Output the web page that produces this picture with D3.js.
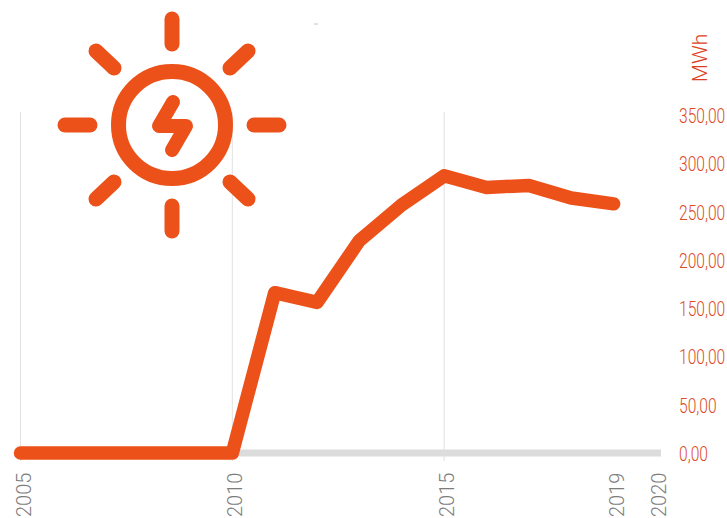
<!DOCTYPE html>
<html>
<head>
<meta charset="utf-8">
<script src="https://cdn.jsdelivr.net/npm/d3@7"></script>
<style>
    html, body { margin: 0; padding: 0; background: #fff; }
    svg { display: block; }
    .y_label { font-family: "Roboto", sans-serif; font-weight: 300; font-size: 20px; fill: #dd4a1e; }
    .x_label { font-family: "Roboto", sans-serif; font-weight: 300; font-size: 20px; fill: #7d7d7d; }
</style>
</head>
<body>
<div id="chart"></div>
<script>

let years = [2005, 2006, 2007, 2008, 2009, 2010, 2011, 2012, 2013, 2014, 2015, 2016, 2017, 2018, 2019];
let mwh = [0, 0, 0, 0, 0, 0, 166, 156, 220, 257, 287, 275, 277, 264, 258];
let x_ticks = [2005, 2010, 2015, 2019, 2020];
let grid_years = [2005, 2010, 2015];
let y_ticks = [0, 50, 100, 150, 200, 250, 300, 350];

let chart_width = 727;
let chart_height = 518;
let orange = "#ec5119";

let svg = d3.select("#chart")
            .append("svg")
            .attr("width", chart_width)
            .attr("height", chart_height);

let xScale = d3.scaleLinear().domain([2005, 2020]).range([20.5, 656]);
let yScale = d3.scaleLinear().domain([0, 350]).range([453, 115]);

// vertical grid lines
svg.selectAll(".grid_line")
    .data(grid_years)
    .enter()
    .append("line")
    .attr("class", "grid_line")
    .attr("x1", d => xScale(d))
    .attr("x2", d => xScale(d))
    .attr("y1", 112)
    .attr("y2", 461)
    .attr("stroke", "#e2e2e2")
    .attr("stroke-width", 1);

// grey base line
svg.append("line")
    .attr("x1", xScale(2005))
    .attr("x2", 661)
    .attr("y1", yScale(0))
    .attr("y2", yScale(0))
    .attr("stroke", "#dcdcdc")
    .attr("stroke-width", 7);

let line = d3.line()
             .x((d, i) => xScale(years[i]))
             .y(d => yScale(d));

svg.append("path")
    .datum(mwh)
    .attr("d", line)
    .attr("fill", "none")
    .attr("stroke", orange)
    .attr("stroke-width", 13.5)
    .attr("stroke-linejoin", "round")
    .attr("stroke-linecap", "round");

// y labels, on the right, squeezed because the narrow font is not there
svg.selectAll(".y_label")
    .data(y_ticks)
    .enter()
    .append("text")
    .attr("class", "y_label")
    .attr("transform", d => "translate(679," + (yScale(d) + 1) + ") scale(0.78,1)")
    .attr("dy", "0.35em")
    .text(d => d3.format(".2f")(d).replace(".", ","));

// x labels, turned
svg.selectAll(".x_label")
    .data(x_ticks)
    .enter()
    .append("text")
    .attr("class", "x_label")
    .attr("transform", d => "translate(" + (xScale(d) + 10) + ",517) rotate(-90)")
    .text(d => d);

svg.append("text")
    .attr("class", "x_label")
    .attr("text-anchor", "middle")
    .attr("transform", "translate(707,58) rotate(-90)")
    .style("fill", "#dc3f22")
    .style("font-size", "21px")
    .text("MWh");

// little stray mark at the top
svg.append("line")
    .attr("x1", 314)
    .attr("x2", 318)
    .attr("y1", 24)
    .attr("y2", 24)
    .attr("stroke", "#c4c4c4");

// sun icon
let sun = svg.append("g")
             .attr("transform", "translate(172,125)")
             .attr("fill", "none")
             .attr("stroke", orange)
             .attr("stroke-width", 15)
             .attr("stroke-linecap", "round")
             .attr("stroke-linejoin", "round");

sun.append("circle").attr("r", 53.5);

let rays = [[0, -106, 0, -81], [0, 81, 0, 106], [-107, 0, -82, 0], [82, 0, 107, 0],
            [-76, -74, -58, -57], [76, -74, 58, -57], [-76, 74, -58, 57], [76, 74, 58, 57]];

sun.selectAll(".ray")
    .data(rays)
    .enter()
    .append("line")
    .attr("class", "ray")
    .attr("x1", d => d[0])
    .attr("y1", d => d[1])
    .attr("x2", d => d[2])
    .attr("y2", d => d[3]);

sun.append("path")
    .attr("d", "M1,-23 L-13,1 L14,1 L0,25")
    .attr("stroke-width", 14);

</script>
</body>
</html>
